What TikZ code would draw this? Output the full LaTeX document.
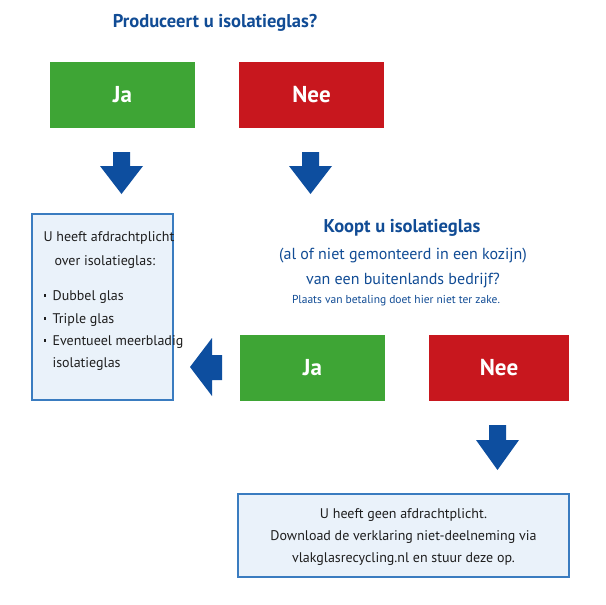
\documentclass[tikz,border=0pt]{standalone}
\usepackage{fontspec}
\setmainfont{PT Sans}
\newcommand{\sqbullet}{\rule[0.28em]{0.2em}{0.2em}\hspace{0.45em}}
\begin{document}
\begin{tikzpicture}[x=1pt,y=-1pt,
  titletext/.style={text=myblue,font=\bfseries\fontsize{18.5}{22}\selectfont},
  answer/.style={minimum width=145pt,minimum height=66pt,inner sep=0pt,text=white,font=\bfseries\fontsize{23}{26}\selectfont},
  jabox/.style={answer,fill=mygreen},
  neebox/.style={answer,fill=myred},
  infobox/.style={draw=myborder,line width=1.2pt,fill=myfill,inner sep=0pt},
  bigarrow/.style={fill=myarrow,draw=none},
  bodytext/.style={text=mytext,font=\fontsize{14}{22}\selectfont},
  qtext/.style={text=myblue}
]
\definecolor{mygreen}{HTML}{3EA535}
\definecolor{myred}{HTML}{C8171E}
\definecolor{myblue}{HTML}{114C95}
\definecolor{myarrow}{HTML}{0D4E9F}
\definecolor{myborder}{HTML}{3A7CC0}
\definecolor{myfill}{HTML}{EAF2FA}
\definecolor{mytext}{HTML}{1E1E1E}
\useasboundingbox[fill=white] (0,0) rectangle (605,605);

\node[titletext] (q1) at (215,23) {Produceert u isolatieglas?};
\node[jabox] (ja1) at (122.5,94.5) {Ja};
\node[neebox] (nee1) at (311.5,94.5) {Nee};

% down arrows
\fill[bigarrow] (113,152) -- (130,152) -- (130,166) -- (143,166) -- (121.5,194) -- (100,166) -- (113,166) -- cycle;
\fill[bigarrow] (302,152) -- (319,152) -- (319,166) -- (332,166) -- (310.5,194) -- (289,166) -- (302,166) -- cycle;

% left info box
\node[infobox,minimum width=141pt,minimum height=186pt] (info1) at (102.5,307) {};
\node[bodytext,anchor=west] (l1) at (40,238) {U heeft afdrachtplicht};
\node[bodytext,anchor=west] (l2) at (51,262) {over isolatieglas:};
\node[bodytext,anchor=west] (l3) at (40,297) {\sqbullet Dubbel glas};
\node[bodytext,anchor=west] (l4) at (40,320) {\sqbullet Triple glas};
\node[bodytext,anchor=west] (l5) at (40,342) {\sqbullet Eventueel meerbladig};
\node[bodytext,anchor=west] (l6) at (49,364) {isolatieglas};

% second question
\node[qtext,font=\bfseries\fontsize{18.5}{22}\selectfont] (q2a) at (402,228) {Koopt u isolatieglas};
\node[qtext,font=\fontsize{16}{20}\selectfont] (q2b) at (403,256) {(al of niet gemonteerd in een kozijn)};
\node[qtext,font=\fontsize{16}{20}\selectfont] (q2c) at (403,280) {van een buitenlands bedrijf?};
\node[qtext,font=\fontsize{11.5}{14}\selectfont] (q2d) at (396,301) {Plaats van betaling doet hier niet ter zake.};

\node[jabox] (ja2) at (312.5,367.5) {Ja};
\node[neebox,minimum width=140pt] (nee2) at (499,367.5) {Nee};

% left arrow
\fill[bigarrow] (222,355) -- (222,380) -- (212,380) -- (212,396) -- (190,367) -- (212,338) -- (212,355) -- cycle;

% down arrow 3
\fill[bigarrow] (489,425) -- (506,425) -- (506,440) -- (519,440) -- (497.5,470) -- (476,440) -- (489,440) -- cycle;

% bottom info box
\node[infobox,minimum width=331pt,minimum height=83pt] (info2) at (403.5,535.5) {};
\node[bodytext,align=center] (b1) at (403.5,537) {U heeft geen afdrachtplicht.\\Download de verklaring niet-deelneming via\\vlakglasrecycling.nl en stuur deze op.};
\end{tikzpicture}
\end{document}
